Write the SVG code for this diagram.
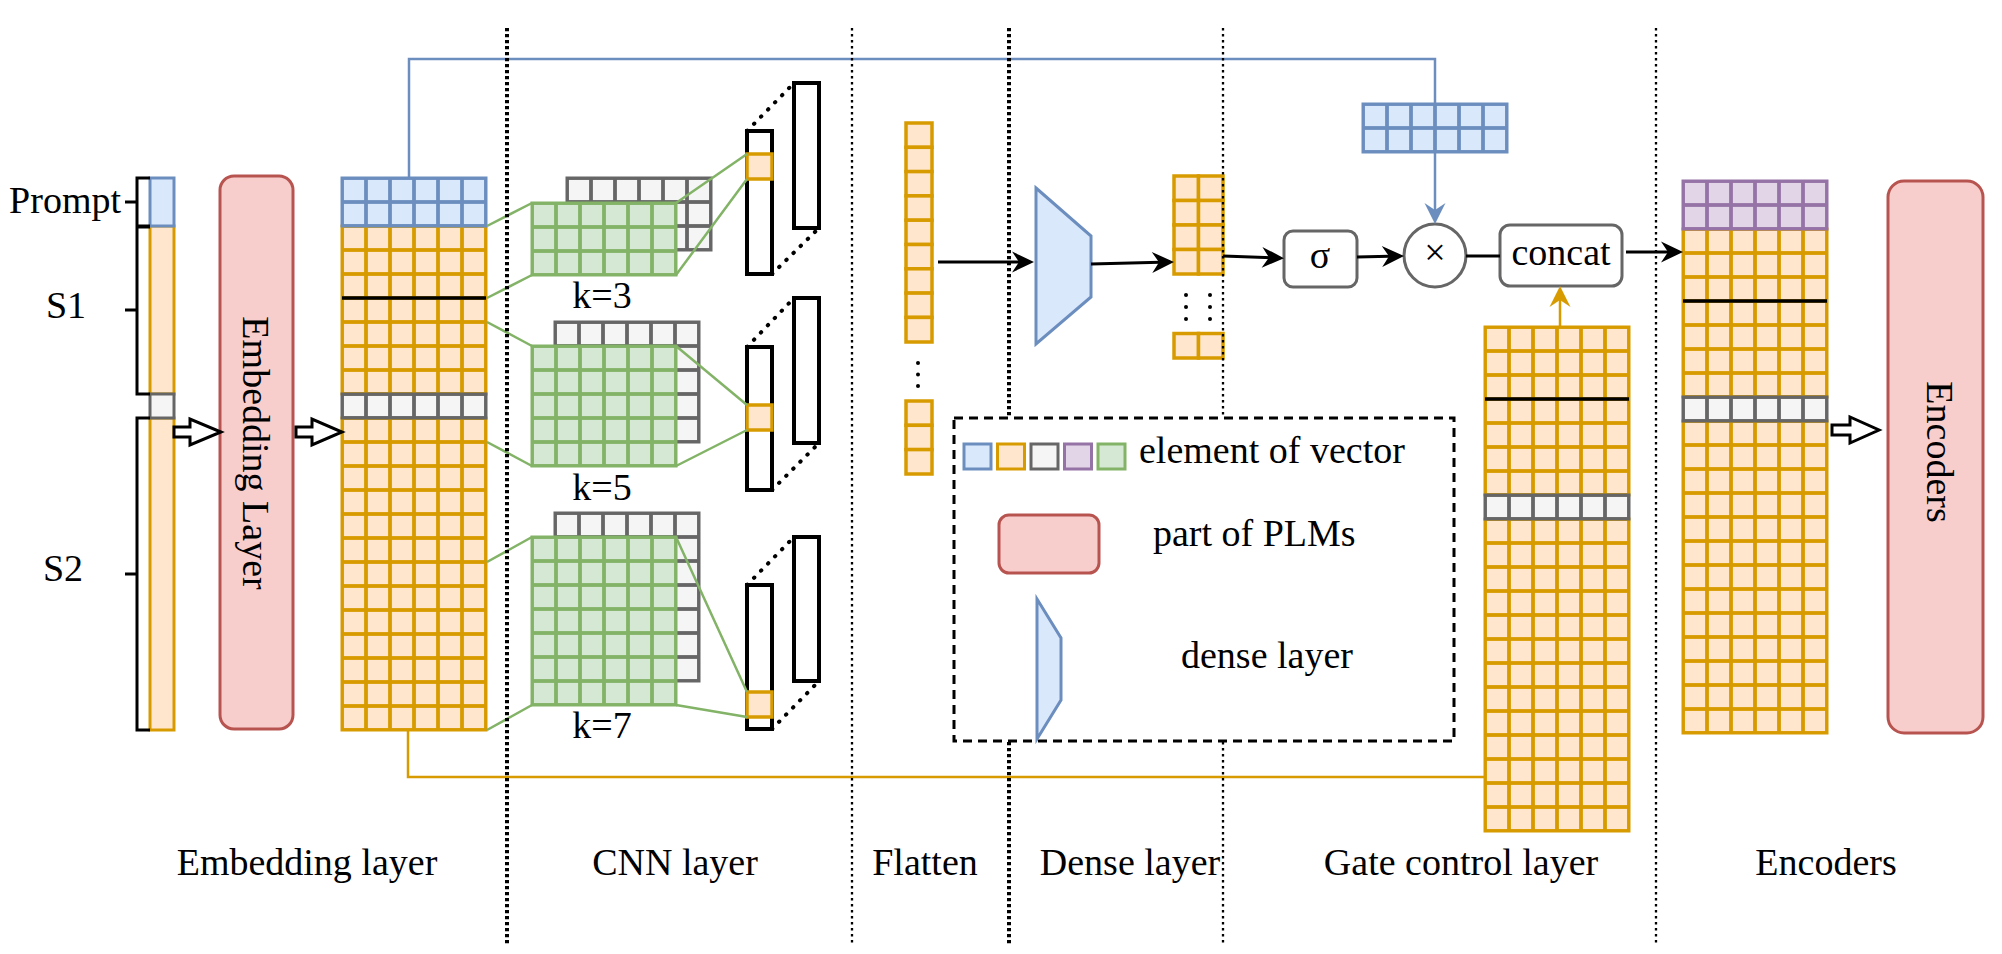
<svg xmlns="http://www.w3.org/2000/svg" width="2002" height="954" viewBox="0 0 2002 954">
<defs>
<style>
text{font-family:"Liberation Serif","Times New Roman",serif;font-size:38px;fill:#000}
.mid{text-anchor:middle}
.pink{fill:#f8cecc;stroke:#b85450;stroke-width:3}
.blk{fill:none;stroke:#000;stroke-width:3}
.bar{stroke:#000;stroke-width:3.5}
.vec{fill:#fff;stroke:#000;stroke-width:4}
.dot{fill:none;stroke:#000;stroke-width:4;stroke-dasharray:0.5 9.5;stroke-linecap:round}
.g{fill:none;stroke:#82b366;stroke-width:2.5}
.oc{fill:#ffe6cc;stroke:#d79b00;stroke-width:3.5}
.d1{stroke:#000;stroke-width:4;stroke-dasharray:3.3 2.7}
.d2{stroke:#000;stroke-width:2.3;stroke-dasharray:2.5 3.5}
.hollow{fill:#fff;stroke:#000;stroke-width:3}
.op{fill:#fff;stroke:#666;stroke-width:3}
.mO{fill:url(#pO);stroke:#d79b00;stroke-width:3}
.mB{fill:url(#pB);stroke:#6c8ebf;stroke-width:3}
.mG{fill:url(#pG);stroke:#666;stroke-width:3}
.mP{fill:url(#pP);stroke:#9673a6;stroke-width:3}
.mN{fill:url(#pN);stroke:#82b366;stroke-width:3}
.sO{fill:#ffe6cc;stroke:#d79b00;stroke-width:3}
.sB{fill:#dae8fc;stroke:#6c8ebf;stroke-width:3}
.sG{fill:#f5f5f5;stroke:#666;stroke-width:3}
.sP{fill:#e1d5e7;stroke:#9673a6;stroke-width:3}
.sN{fill:#d5e8d4;stroke:#82b366;stroke-width:3}
.trap{fill:#dae8fc;stroke:#6c8ebf;stroke-width:3}
.ak{fill:none;stroke:#000;stroke-width:3}
.ab{fill:none;stroke:#6c8ebf;stroke-width:2.5}
.ao{fill:none;stroke:#d79b00;stroke-width:2.5}
</style>
<pattern id="pO" width="24" height="24" patternUnits="userSpaceOnUse"><rect width="24" height="24" fill="#ffe6cc" stroke="#d79b00" stroke-width="3.8"/></pattern>
<pattern id="pB" width="24" height="24" patternUnits="userSpaceOnUse"><rect width="24" height="24" fill="#dae8fc" stroke="#6c8ebf" stroke-width="3.8"/></pattern>
<pattern id="pG" width="24" height="24" patternUnits="userSpaceOnUse"><rect width="24" height="24" fill="#f5f5f5" stroke="#666" stroke-width="3.8"/></pattern>
<pattern id="pP" width="24" height="24" patternUnits="userSpaceOnUse"><rect width="24" height="24" fill="#e1d5e7" stroke="#9673a6" stroke-width="3.8"/></pattern>
<pattern id="pN" width="24" height="24" patternUnits="userSpaceOnUse"><rect width="24" height="24" fill="#d5e8d4" stroke="#82b366" stroke-width="3.8"/></pattern>
<marker id="mk" markerUnits="userSpaceOnUse" markerWidth="28" markerHeight="24" viewBox="-23 -12 28 24" refX="-4" refY="0" orient="auto"><path d="M0,0 L-22,-10.5 L-15,0 L-22,10.5 Z" fill="#000"/></marker>
<marker id="mb" markerUnits="userSpaceOnUse" markerWidth="28" markerHeight="24" viewBox="-23 -12 28 24" refX="-4" refY="0" orient="auto"><path d="M0,0 L-21,-10.5 L-14,0 L-21,10.5 Z" fill="#6c8ebf"/></marker>
<marker id="mo" markerUnits="userSpaceOnUse" markerWidth="28" markerHeight="24" viewBox="-23 -12 28 24" refX="-4" refY="0" orient="auto"><path d="M0,0 L-21,-10.5 L-14,0 L-21,10.5 Z" fill="#d79b00"/></marker>
</defs>
<rect width="2002" height="954" fill="#fff"/>

<!-- input token vector with brackets -->
<g id="input">
<rect class="sO" x="150" y="226" width="24" height="168"/>
<rect class="sO" x="150" y="418" width="24" height="312"/>
<rect class="sB" x="150" y="178" width="24" height="48"/>
<rect class="sG" x="150" y="394" width="24" height="24"/>
<path class="blk" d="M150,178 H137 V226 H150 M125,202 H137 M150,227 H137 V394 H150 M125,310 H137 M150,418 H137 V730 H150 M125,574 H137"/>
<text x="121" y="213" text-anchor="end">Prompt</text>
<text x="66" y="318" class="mid">S1</text>
<text x="63" y="581" class="mid">S2</text>
</g>

<g id="embedding-layer">
<rect class="pink" x="220" y="176" width="73" height="553" rx="14"/>
<text class="mid" transform="translate(243,453) rotate(90)">Embedding Layer</text>
</g>

<g id="embedding-matrix" transform="translate(342,178)">
<rect class="mO" x="0" y="48" width="144" height="168"/>
<rect class="mO" x="0" y="240" width="144" height="312"/>
<rect class="mB" x="0" y="0" width="144" height="48"/>
<rect class="mG" x="0" y="216" width="144" height="24"/>
<line class="bar" x1="0" y1="120" x2="144" y2="120"/>
</g>

<!-- CNN kernels -->
<g id="kernel-3">
<g transform="translate(567,178)"><rect class="mG" width="144" height="72"/></g>
<g transform="translate(532,203)"><rect class="mN" width="144" height="72"/></g>
<text x="602" y="308" class="mid">k=3</text>
</g>
<g id="kernel-5">
<g transform="translate(555,322)"><rect class="mG" width="144" height="120"/></g>
<g transform="translate(532,346)"><rect class="mN" width="144" height="120"/></g>
<text x="602" y="500" class="mid">k=5</text>
</g>
<g id="kernel-7">
<g transform="translate(555,513)"><rect class="mG" width="144" height="168"/></g>
<g transform="translate(532,537)"><rect class="mN" width="144" height="168"/></g>
<text x="602" y="738" class="mid">k=7</text>
</g>

<!-- feature maps -->
<g id="feature-3">
<rect class="vec" x="794" y="83" width="25" height="145"/>
<rect class="vec" x="747" y="131" width="25" height="143"/>
<rect class="oc" x="747" y="154" width="25" height="25"/>
<path class="dot" d="M747,131 L794,83 M772,274 L819,228"/>
</g>
<g id="feature-5">
<rect class="vec" x="794" y="298" width="25" height="145"/>
<rect class="vec" x="747" y="347" width="25" height="143"/>
<rect class="oc" x="747" y="405" width="25" height="25"/>
<path class="dot" d="M747,347 L794,298 M772,490 L819,443"/>
</g>
<g id="feature-7">
<rect class="vec" x="794" y="537" width="25" height="144"/>
<rect class="vec" x="747" y="585" width="25" height="144"/>
<rect class="oc" x="747" y="692" width="25" height="25"/>
<path class="dot" d="M747,585 L794,537 M772,729 L819,681"/>
</g>

<g id="flatten">
<rect class="oc" x="906" y="123" width="26" height="24.3"/>
<rect class="oc" x="906" y="147.3" width="26" height="24.3"/>
<rect class="oc" x="906" y="171.6" width="26" height="24.3"/>
<rect class="oc" x="906" y="195.9" width="26" height="24.3"/>
<rect class="oc" x="906" y="220.2" width="26" height="24.3"/>
<rect class="oc" x="906" y="244.5" width="26" height="24.3"/>
<rect class="oc" x="906" y="268.8" width="26" height="24.3"/>
<rect class="oc" x="906" y="293.1" width="26" height="24.3"/>
<rect class="oc" x="906" y="317.4" width="26" height="24.6"/>
<circle cx="918" cy="363" r="2"/><circle cx="918" cy="374.5" r="2"/><circle cx="918" cy="386" r="2"/>
<rect class="oc" x="906" y="401" width="26" height="24.3"/>
<rect class="oc" x="906" y="425.3" width="26" height="24.3"/>
<rect class="oc" x="906" y="449.6" width="26" height="24.4"/>
</g>

<g id="dense">
<polygon class="trap" points="1036,188 1091,236 1091,297 1036,344"/>
</g>

<g id="dense-output">
<rect class="oc" x="1174" y="176" width="24.5" height="24.5"/><rect class="oc" x="1198.5" y="176" width="24.5" height="24.5"/>
<rect class="oc" x="1174" y="200.5" width="24.5" height="24.5"/><rect class="oc" x="1198.5" y="200.5" width="24.5" height="24.5"/>
<rect class="oc" x="1174" y="225" width="24.5" height="24.5"/><rect class="oc" x="1198.5" y="225" width="24.5" height="24.5"/>
<rect class="oc" x="1174" y="249.5" width="24.5" height="24.5"/><rect class="oc" x="1198.5" y="249.5" width="24.5" height="24.5"/>
<circle cx="1186" cy="295" r="2"/><circle cx="1186" cy="307" r="2"/><circle cx="1186" cy="319" r="2"/>
<circle cx="1210" cy="295" r="2"/><circle cx="1210" cy="307" r="2"/><circle cx="1210" cy="319" r="2"/>
<rect class="oc" x="1174" y="333.5" width="24.5" height="24.5"/><rect class="oc" x="1198.5" y="333.5" width="24.5" height="24.5"/>
</g>

<g id="sigma">
<rect class="op" x="1284" y="231" width="73" height="56" rx="9"/>
<text x="1320" y="268" class="mid">σ</text>
</g>
<g id="multiply">
<ellipse class="op" cx="1435" cy="255.5" rx="31" ry="31.5"/>
<text x="1435" y="265" class="mid">×</text>
</g>
<g id="concat">
<rect class="op" x="1500" y="225" width="122" height="61" rx="10"/>
<text x="1561" y="265" class="mid">concat</text>
</g>

<g id="prompt-vector" transform="translate(1363,104)">
<rect class="mB" width="144" height="48"/>
</g>

<g id="gate-matrix" transform="translate(1485,327)">
<rect class="mO" x="0" y="0" width="144" height="168"/>
<rect class="mO" x="0" y="192" width="144" height="312"/>
<rect class="mG" x="0" y="168" width="144" height="24"/>
<line class="bar" x1="0" y1="72" x2="144" y2="72"/>
</g>

<g id="encoder-matrix" transform="translate(1683,181)">
<rect class="mO" x="0" y="48" width="144" height="168"/>
<rect class="mO" x="0" y="240" width="144" height="312"/>
<rect class="mP" x="0" y="0" width="144" height="48"/>
<rect class="mG" x="0" y="216" width="144" height="24"/>
<line class="bar" x1="0" y1="120" x2="144" y2="120"/>
</g>

<g id="encoders">
<rect class="pink" x="1888" y="181" width="95" height="552" rx="16"/>
<text class="mid" transform="translate(1927,452) rotate(90)">Encoders</text>
</g>

<!-- connectors -->
<g id="connectors">
<path class="hollow" d="M174,427 H190 V419 L221,432 L190,445 V437 H174 Z"/>
<path class="hollow" d="M296,427 H312 V419 L342,432 L312,445 V437 H296 Z"/>
<path class="hollow" d="M1832,425 H1850 V417 L1879,430 L1850,443 V435 H1832 Z"/>
<path class="g" d="M487,226 L532,203 M487,298 L532,275 M676,203 L747,154 M676,275 L747,179"/>
<path class="g" d="M487,322 L532,346 M487,442 L532,466 M676,346 L747,405 M676,466 L747,430"/>
<path class="g" d="M487,562 L532,537 M487,730 L532,705 M676,537 L747,692 M676,705 L747,717"/>
<path class="ab" d="M409,178 V59 H1435 V104"/>
<path class="ab" d="M1435,152 V220" marker-end="url(#mb)"/>
<path class="ao" d="M408,730 V777 H1485"/>
<path class="ao" d="M1560,327 V290" marker-end="url(#mo)"/>
<path class="ak" d="M938,262 H1030" marker-end="url(#mk)"/>
<path class="ak" d="M1091,264 L1170,262" marker-end="url(#mk)"/>
<path class="ak" d="M1223,256 L1280,258" marker-end="url(#mk)"/>
<path class="ak" d="M1357,257 L1400,256" marker-end="url(#mk)"/>
<path class="ak" d="M1466,256 H1500"/>
<path class="ak" d="M1626,252 H1679" marker-end="url(#mk)"/>
</g>

<!-- section dividers -->
<g id="dividers">
<line class="d1" x1="507" y1="28" x2="507" y2="944"/>
<line class="d2" x1="852" y1="28" x2="852" y2="944"/>
<line class="d1" x1="1009" y1="28" x2="1009" y2="944"/>
<line class="d2" x1="1223" y1="28" x2="1223" y2="944"/>
<line class="d2" x1="1656" y1="28" x2="1656" y2="944"/>
</g>

<g id="legend">
<rect x="954" y="418" width="500" height="323" fill="#fff" stroke="#000" stroke-width="3" stroke-dasharray="9 6"/>
<rect class="sB" x="964" y="444" width="27" height="25"/>
<rect class="sO" x="997.5" y="444" width="27" height="25"/>
<rect class="sG" x="1031" y="444" width="27" height="25"/>
<rect class="sP" x="1064.5" y="444" width="27" height="25"/>
<rect class="sN" x="1098" y="444" width="27" height="25"/>
<text x="1139" y="463">element of vector</text>
<rect class="pink" x="999" y="515" width="100" height="58" rx="10"/>
<text x="1153" y="546">part of PLMs</text>
<polygon class="trap" points="1037,599 1061,638 1061,700 1037,739"/>
<text x="1181" y="668">dense layer</text>
</g>

<g id="section-labels">
<text x="307" y="875" class="mid">Embedding layer</text>
<text x="675" y="875" class="mid">CNN layer</text>
<text x="925" y="875" class="mid">Flatten</text>
<text x="1130" y="875" class="mid">Dense layer</text>
<text x="1461" y="875" class="mid">Gate control layer</text>
<text x="1826" y="875" class="mid">Encoders</text>
</g>
</svg>
